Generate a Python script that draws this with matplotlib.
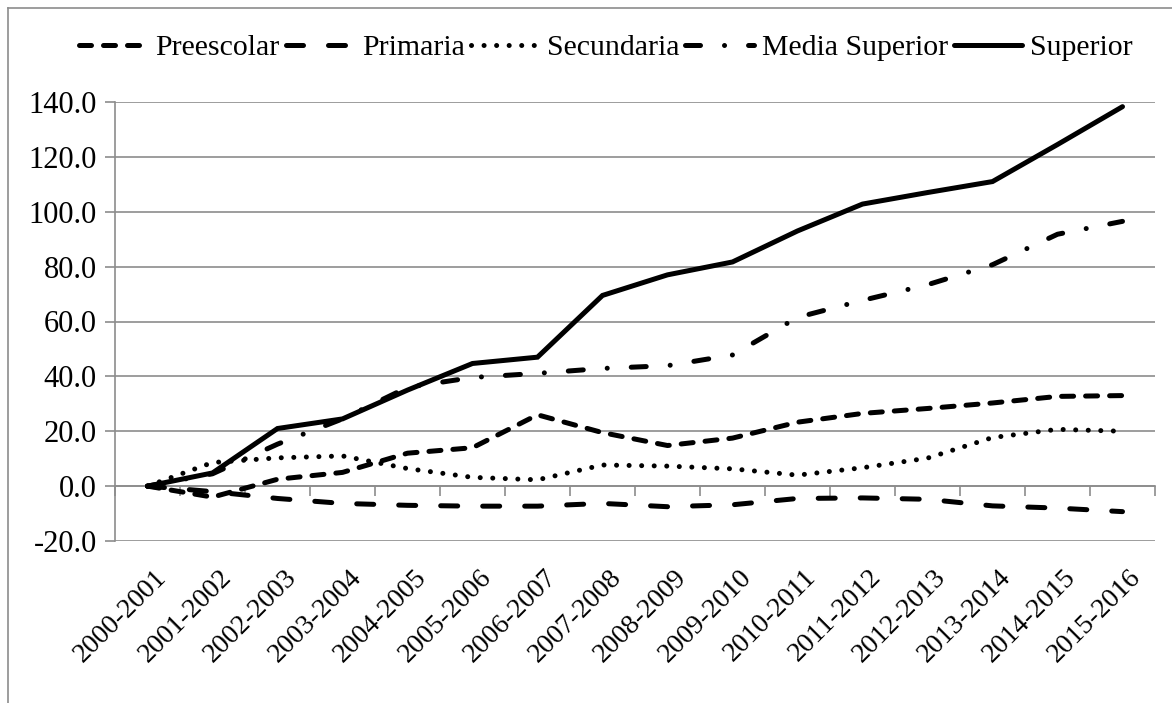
import matplotlib
matplotlib.use("Agg")
import matplotlib.pyplot as plt
from matplotlib.lines import Line2D
from matplotlib.transforms import ScaledTranslation

plt.rcParams['font.family'] = ['Liberation Serif', 'DejaVu Serif']
plt.rcParams['axes.unicode_minus'] = False

# Data
periodos = ['2000-2001', '2001-2002', '2002-2003', '2003-2004', '2004-2005',
            '2005-2006', '2006-2007', '2007-2008', '2008-2009', '2009-2010',
            '2010-2011', '2011-2012', '2012-2013', '2013-2014', '2014-2015',
            '2015-2016']
preescolar = [0, -4.0, 2.5, 5.0, 12.0, 14.0, 26.0, 19.5, 14.8, 17.5,
              23.3, 26.5, 28.3, 30.3, 32.7, 33.0]
primaria = [0, -2.0, -4.5, -6.3, -7.0, -7.3, -7.3, -6.3, -7.5, -6.8,
            -4.5, -4.3, -4.8, -7.2, -8.0, -9.3]
secundaria = [0, 8.6, 10.3, 11.0, 6.4, 3.2, 2.3, 7.7, 7.3, 6.3,
              4.0, 6.7, 10.2, 17.7, 20.7, 20.0]
media_superior = [0, 4.5, 15.3, 24.5, 36.0, 39.6, 41.1, 42.9, 43.9, 47.8,
                  61.5, 67.7, 73.4, 80.7, 91.8, 96.5]
superior = [0, 4.8, 21.0, 24.5, 35.0, 44.7, 47.0, 69.5, 77.0, 81.7,
            93.0, 102.8, 107.0, 111.0, 124.5, 138.3]
yticks = [-20, 0, 20, 40, 60, 80, 100, 120, 140]

W, H = 1172, 703
fig = plt.figure(figsize=(W / 100, H / 100), dpi=100)
ax = fig.add_axes([115 / W, 1 - 541 / H, (1155 - 115) / W, (541 - 102) / H])

grey = '#8c8c8c'
lw = 3.6
x = list(range(len(periodos)))

series = [
    ('Preescolar', preescolar, (2.4, 2.4)),
    ('Primaria', primaria, (3.4, 5.0)),
    ('Secundaria', secundaria, (0.01, 2.5)),
    ('Media Superior', media_superior, (3.0, 4.8, 0.01, 4.8)),
]
for name, vals, dash in series:
    ax.plot(x, vals, color='black', lw=lw, dashes=dash,
            dash_capstyle='round', solid_capstyle='round', label=name, zorder=3)
ax.plot(x, superior, color='black', lw=lw, solid_capstyle='round',
        solid_joinstyle='miter', label='Superior', zorder=3)

ax.set_xlim(-0.5, len(periodos) - 0.5)
ax.set_ylim(-20, 140)
ax.set_yticks(yticks)
ax.set_yticklabels(['%.1f' % v for v in yticks], fontsize=22)
ax.yaxis.grid(True, color=grey, lw=1.2)
ax.set_axisbelow(True)

ax.set_xticks(x)
ax.set_xticklabels(periodos, rotation=45, ha='right', rotation_mode='anchor',
                   fontsize=20)
ax.tick_params(axis='x', length=0, pad=17)
ax.tick_params(axis='y', length=7, color=grey, width=1.2, pad=6)
shift = ScaledTranslation(6 / 100, 0, fig.dpi_scale_trans)
for lab in ax.get_xticklabels():
    lab.set_transform(lab.get_transform() + shift)

for s in ['top', 'right', 'bottom']:
    ax.spines[s].set_visible(False)
ax.spines['left'].set_color(grey)
ax.spines['left'].set_linewidth(1.2)

# category axis crossing at zero, ticks between categories
sec = ax.secondary_xaxis(20 / 160)
sec.set_xticks([i - 0.5 for i in range(len(periodos) + 1)])
sec.tick_params(axis='x', direction='out', length=7, color=grey, width=1.2,
                labelbottom=False)
sec.spines['bottom'].set_color(grey)
sec.spines['bottom'].set_linewidth(1.2)

leg = fig.legend(loc='center', bbox_to_anchor=(0.517, 1 - 48 / H), ncol=5,
                 frameon=False, fontsize=21.5, handlelength=2.3,
                 handletextpad=0.25, columnspacing=0.2, borderaxespad=0)

# chart area border
fig.add_artist(Line2D([8 / W, 1], [1 - 8 / H, 1 - 8 / H], color=grey, lw=1.2))
fig.add_artist(Line2D([8 / W, 8 / W], [0, 1 - 8 / H], color=grey, lw=1.2))

fig.savefig('out.png', dpi=100)
